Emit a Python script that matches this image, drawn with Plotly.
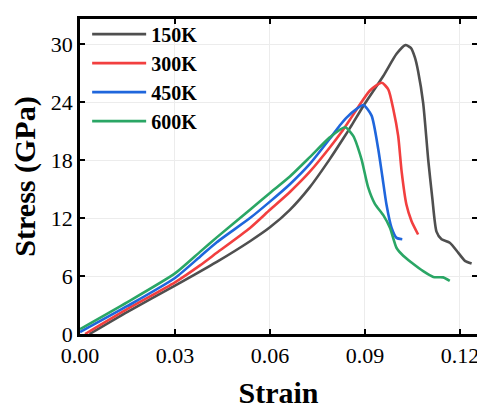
import plotly.graph_objects as go

# ---- data ----
labels = ["150K", "300K", "450K", "600K"]
colors = ["#4f4f4f", "#f23f3f", "#1f66dc", "#2aa665"]

strain_150 = [0.003, 0.015, 0.030, 0.0432, 0.0537, 0.060, 0.0663, 0.0726, 0.0789, 0.0831,
              0.0858, 0.0895, 0.0958, 0.100, 0.1028, 0.1045, 0.1058, 0.1068, 0.1084,
              0.1100, 0.1113, 0.1126, 0.1142, 0.1168, 0.1195, 0.1216, 0.1237]
stress_150 = [0.0, 2.3, 5.0, 7.46, 9.6, 11.04, 12.85, 15.2, 18.1, 20.2,
              21.6, 23.6, 26.7, 29.0, 29.9, 29.6, 28.6, 27.2, 23.9,
              18.0, 14.0, 10.6, 9.8, 9.44, 8.4, 7.57, 7.3]

strain_300 = [0.0016, 0.015, 0.030, 0.0379, 0.0432, 0.0537, 0.060, 0.0663, 0.0726, 0.0789,
              0.0826, 0.0853, 0.0916, 0.0953, 0.0974, 0.099, 0.1005, 0.1016, 0.1031,
              0.1047, 0.1068]
stress_300 = [0.0, 2.6, 5.35, 7.1, 8.4, 10.97, 12.85, 14.7, 16.8, 19.3,
              20.9, 22.2, 25.2, 26.0, 25.3, 23.2, 20.5, 16.8, 13.4,
              11.7, 10.3]

strain_450 = [0.0, 0.015, 0.030, 0.0379, 0.0432, 0.0537, 0.060, 0.0663, 0.0726, 0.0789,
              0.0821, 0.0842, 0.0874, 0.0895, 0.0921, 0.0942, 0.0955, 0.0968, 0.0984,
              0.100, 0.1018]
stress_450 = [0.2, 2.9, 5.8, 8.0, 9.5, 12.0, 13.7, 15.5, 17.6, 20.2,
              21.6, 22.4, 23.3, 23.7, 22.6, 19.15, 16.3, 13.4, 11.0,
              9.95, 9.8]

strain_600 = [0.0, 0.015, 0.030, 0.0379, 0.0432, 0.0537, 0.060, 0.0663, 0.0726, 0.0789,
              0.0837, 0.0863, 0.0889, 0.0910, 0.0931, 0.0958, 0.0979, 0.100, 0.1021,
              0.1047, 0.1084, 0.1116, 0.1147, 0.1168]
stress_600 = [0.5, 3.3, 6.27, 8.5, 10.0, 12.85, 14.6, 16.3, 18.3, 20.35,
              21.4, 20.5, 18.1, 15.2, 13.5, 12.3, 11.0, 8.9, 8.1,
              7.4, 6.5, 5.9, 5.86, 5.5]

xs = [strain_150, strain_300, strain_450, strain_600]
ys = [stress_150, stress_300, stress_450, stress_600]

x_ticks = [0.0, 0.03, 0.06, 0.09, 0.12]
y_ticks = [0, 6, 12, 18, 24, 30]

serif = "Liberation Serif, Times New Roman, serif"

fig = go.Figure()
for lab, col, x, y in zip(labels, colors, xs, ys):
    fig.add_trace(go.Scatter(x=x, y=y, mode="lines", name="<b>" + lab + "</b>",
                             line=dict(color=col, width=2.6, shape="spline", smoothing=0.6)))

axis_common = dict(
    showline=True, linecolor="black", linewidth=2.5, mirror="ticks",
    ticks="inside", ticklen=5, tickwidth=2, tickcolor="black",
    showgrid=True, gridcolor="#ececec", gridwidth=1, zeroline=False,
    tickfont=dict(family=serif, size=22, color="black"),
    automargin=False,
)

fig.update_xaxes(range=[0, 0.1254], tickvals=x_ticks, tickformat=".2f",
                 title=dict(text="<b>Strain</b>", font=dict(family=serif, size=30, color="black")),
                 **axis_common)
fig.update_yaxes(range=[0, 32.6], tickvals=y_ticks,
                 title=dict(text="<b>Stress (GPa)</b>", font=dict(family=serif, size=30, color="black")),
                 **axis_common)

# page body has an 8px margin, so the figure is made 8px smaller and margins adjusted
fig.update_layout(
    width=477, height=402,
    margin=dict(l=72, r=8, t=7, b=76),
    plot_bgcolor="white", paper_bgcolor="white",
    legend=dict(x=0.018, y=1.014, xanchor="left", yanchor="top",
                bgcolor="rgba(0,0,0,0)", itemwidth=54,
                font=dict(family=serif, size=20, color="black"),
                tracegroupgap=0),
    showlegend=True,
)

fig.write_html("out.html")
